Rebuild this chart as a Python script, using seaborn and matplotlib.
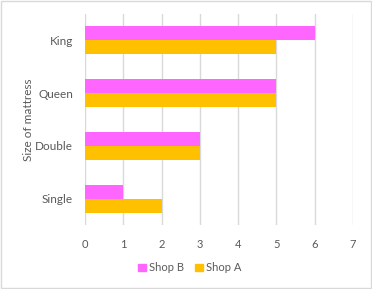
import matplotlib
matplotlib.use("Agg")
import matplotlib.pyplot as plt
import seaborn as sns
import pandas as pd
from matplotlib.patches import Rectangle, Patch

categories = ["King", "Queen", "Double", "Single"]
shop_b = [6, 5, 3, 1]
shop_a = [5, 5, 3, 2]
series = ["Shop B", "Shop A"]
colors = {"Shop B": "#FF66FF", "Shop A": "#FFC000"}
xticks = [0, 1, 2, 3, 4, 5, 6, 7]

df = pd.DataFrame({
    "size": categories * 2,
    "value": shop_b + shop_a,
    "shop": ["Shop B"] * len(categories) + ["Shop A"] * len(categories),
})

sns.set_theme(style="white")
plt.rcParams["font.family"] = ["Lato", "DejaVu Sans"]
txt = "#595959"

fig = plt.figure(figsize=(3.72, 2.89), dpi=100)
ax = fig.add_axes([0.2285, 0.2215, 0.7205, 0.7301])
sns.barplot(data=df, y="size", x="value", hue="shop", order=categories,
            hue_order=series, palette=colors, orient="h", width=0.53,
            gap=0, saturation=1, ax=ax, legend=False, linewidth=0)

ax.set_xlim(0, 7)
ax.set_xticks(xticks)
ax.set_xticklabels([str(t) for t in xticks], color=txt, fontsize=8)
ax.tick_params(axis="y", labelsize=8.5, colors=txt, length=0, pad=8.5)
ax.tick_params(axis="x", length=0, pad=10)
for l in ax.get_yticklabels():
    l.set_color(txt)
ax.grid(axis="x", color="#D9D9D9", linewidth=1)
ax.grid(axis="y", visible=False)
ax.set_axisbelow(True)
for s in ax.spines.values():
    s.set_visible(False)
ax.set_xlabel("")
ax.set_ylabel("Size of mattress", color=txt, fontsize=8.5)
ax.yaxis.set_label_coords(-0.19, 0.5)

handles = [Patch(color=colors[s], label=s) for s in series]
fig.legend(handles=handles, loc="center", bbox_to_anchor=(0.51, 0.073),
           ncol=2, frameon=False, fontsize=8, handlelength=0.7, handleheight=0.7,
           handletextpad=0.3, columnspacing=1.0, labelcolor=txt)

fig.patches.append(Rectangle((0.002, 0.002), 0.995, 0.995, transform=fig.transFigure,
                             fill=False, edgecolor="#D9D9D9", linewidth=1))
fig.savefig("out.png", dpi=100, facecolor="white")
